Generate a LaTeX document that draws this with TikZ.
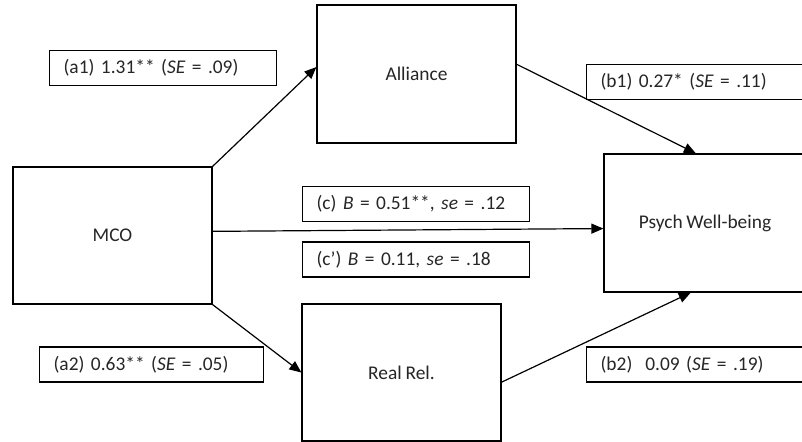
\documentclass[tikz,border=0pt]{standalone}
\usepackage{fontspec}
\setmainfont[WordSpace=0.85]{Carlito}
\usetikzlibrary{arrows.meta,calc}
\begin{document}
\begin{tikzpicture}[x=0.5pt,y=-0.5pt,
  every node/.style={font=\fontsize{9.7}{11.6}\selectfont, text=black!85},
  box/.style={draw, line width=0.6pt, fill=white, inner sep=0pt, minimum width=99.5pt, minimum height=68.5pt},
  lbl/.style={draw, line width=0.6pt, fill=white, inner xsep=7pt, inner ysep=0pt, minimum height=17.5pt, align=left, anchor=north west},
  conn/.style={line width=0.6pt, -{Triangle[length=6pt,width=5pt]}}]
\useasboundingbox (0,0) rectangle (802,442);
\clip (0,0) rectangle (802,442);
\node[box] (mco) at (112.5,235.5) {MCO};
\node[box, minimum height=69pt] (al) at (416.5,74) {Alliance};
\node[box] (rr) at (401.5,372.5) {Real Rel.};
\node[box, minimum width=101pt, minimum height=69pt] (pw) at (705,223) {Psych Well-being};
\node[lbl, text width=99.5pt] (la1) at (49,50) {(a1) 1.31** (\textit{SE} = .09)};
\node[lbl, text width=98pt] (la2) at (39,346.5) {(a2) 0.63** (\textit{SE} = .05)};
\node[lbl, text width=99.5pt] (lc) at (302,186) {(c) \textit{B} = 0.51**, \textit{se} = .12};
\node[lbl, text width=99.5pt] (lcp) at (302,241.5) {(c’) \textit{B} = 0.11, \textit{se} = .18};
\node[lbl, text width=98pt] (lb1) at (586,64) {(b1) 0.27* (\textit{SE} = .11)};
\node[lbl, text width=98pt] (lb2) at (586,346.5) {(b2)\ \ 0.09 (\textit{SE} = .19)};
\draw[conn] (mco.north east) -- ($(al.north west)!0.45!(al.south west)$);
\draw[conn] (mco.south east) -- (rr.west);
\draw[conn] ($(mco.north east)!0.47!(mco.south east)$) -- ($(pw.north west)!0.54!(pw.south west)$);
\draw[conn] ($(al.north east)!0.43!(al.south east)$) -- ($(pw.north west)!0.455!(pw.north east)$);
\draw[conn] ($(rr.north east)!0.57!(rr.south east)$) -- ($(pw.south west)!0.43!(pw.south east)$);
\end{tikzpicture}
\end{document}
